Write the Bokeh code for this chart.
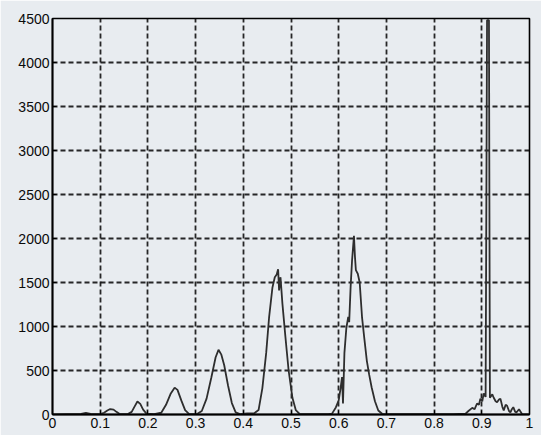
from bokeh.plotting import figure
from bokeh.models import Range1d, FixedTicker
from bokeh.embed import file_html
from bokeh.resources import INLINE

# ---- data (spectrum-like curve) ----
freq = [0.000, 0.030, 0.060, 0.070, 0.080, 0.100, 0.108, 0.115, 0.121, 0.128, 0.134, 0.140,
        0.158, 0.166, 0.172, 0.178, 0.184, 0.190, 0.197,
        0.213, 0.228, 0.238, 0.248, 0.256, 0.262, 0.270, 0.278, 0.286,
        0.303, 0.313, 0.323, 0.333, 0.342, 0.348, 0.354, 0.360, 0.368, 0.376, 0.384, 0.393,
        0.408, 0.423, 0.432, 0.440, 0.448, 0.454, 0.461, 0.466, 0.470, 0.473, 0.475, 0.478,
        0.482, 0.488, 0.491, 0.495, 0.503, 0.510, 0.518,
        0.540, 0.560, 0.578, 0.586, 0.594, 0.600, 0.604, 0.607, 0.609, 0.612, 0.616, 0.620,
        0.622, 0.625, 0.628, 0.632, 0.634, 0.636, 0.640, 0.644, 0.649, 0.654, 0.659, 0.664,
        0.669, 0.676, 0.683, 0.691,
        0.720, 0.760, 0.800, 0.840, 0.866, 0.872, 0.880, 0.885, 0.890, 0.894, 0.897, 0.901,
        0.904, 0.908, 0.911, 0.913, 0.915, 0.917, 0.922, 0.925, 0.929, 0.932, 0.936, 0.939,
        0.943, 0.946, 0.950, 0.953, 0.957, 0.960, 0.963, 0.966, 0.970, 0.973, 0.978, 0.985, 1.000]
power = [2, 5, 8, 18, 8, 5, 20, 45, 62, 55, 30, 8,
         5, 30, 90, 148, 120, 55, 10,
         5, 20, 110, 240, 305, 280, 160, 50, 8,
         5, 40, 180, 420, 650, 735, 680, 560, 330, 130, 25, 5,
         12, 15, 50, 300, 700, 1100, 1440, 1560, 1590, 1650, 1410, 1560,
         1260, 900, 727, 500, 190, 50, 8,
         5, 5, 5, 10, 80, 160, 300, 425, 125, 700, 980, 1110,
         1050, 1450, 1750, 2030, 1800, 1640, 1600, 1500, 1100, 850, 610, 450,
         310, 150, 45, 8,
         5, 3, 3, 5, 10, 40, 75, 60, 125, 110, 180, 150,
         240, 200, 4480, 4480, 4480, 190, 230, 190, 150, 140, 170, 180,
         90, 45, 110, 100, 40, 25, 60, 83, 30, 25, 60, 0, 0]

x_ticks = [0, 0.1, 0.2, 0.3, 0.4, 0.5, 0.6, 0.7, 0.8, 0.9, 1]
x_tick_labels = ["0", "0.1", "0.2", "0.3", "0.4", "0.5", "0.6", "0.7", "0.8", "0.9", "1"]
y_ticks = [0, 500, 1000, 1500, 2000, 2500, 3000, 3500, 4000, 4500]

bg = "#e8ecf0"
p = figure(width=541, height=435, output_backend="svg", toolbar_location=None,
           x_range=Range1d(0, 1), y_range=Range1d(0, 4500),
           min_border_left=52, min_border_right=12, min_border_top=18, min_border_bottom=21,
           background_fill_color=bg, border_fill_color=bg)

p.outline_line_color = "black"
p.outline_line_width = 1.6

for ax in (p.xaxis[0], p.yaxis[0]):
    ax.axis_line_color = "black"
    ax.axis_line_width = 1.8
    ax.major_tick_in = 4
    ax.major_tick_out = 0
    ax.minor_tick_line_color = None
    ax.major_label_text_font = "Liberation Sans"
    ax.major_label_text_font_size = "14px"
    ax.major_label_text_color = "#0a0a0a"
    ax.major_label_standoff = 3

p.xaxis.ticker = FixedTicker(ticks=x_ticks)
p.xaxis.major_label_overrides = dict(zip(x_ticks, x_tick_labels))
p.yaxis.ticker = FixedTicker(ticks=y_ticks)

for g in (p.xgrid[0], p.ygrid[0]):
    g.grid_line_color = "#111111"
    g.grid_line_width = 1.8
    g.grid_line_dash = "5 3"
    g.grid_line_alpha = 0.9

p.line([0, 1], [0, 0], line_color="#3f8f5f", line_width=1.2)
p.line(freq, power, line_color="#2e2e2e", line_width=1.8)

open("out.html", "w").write(file_html(p, INLINE))
